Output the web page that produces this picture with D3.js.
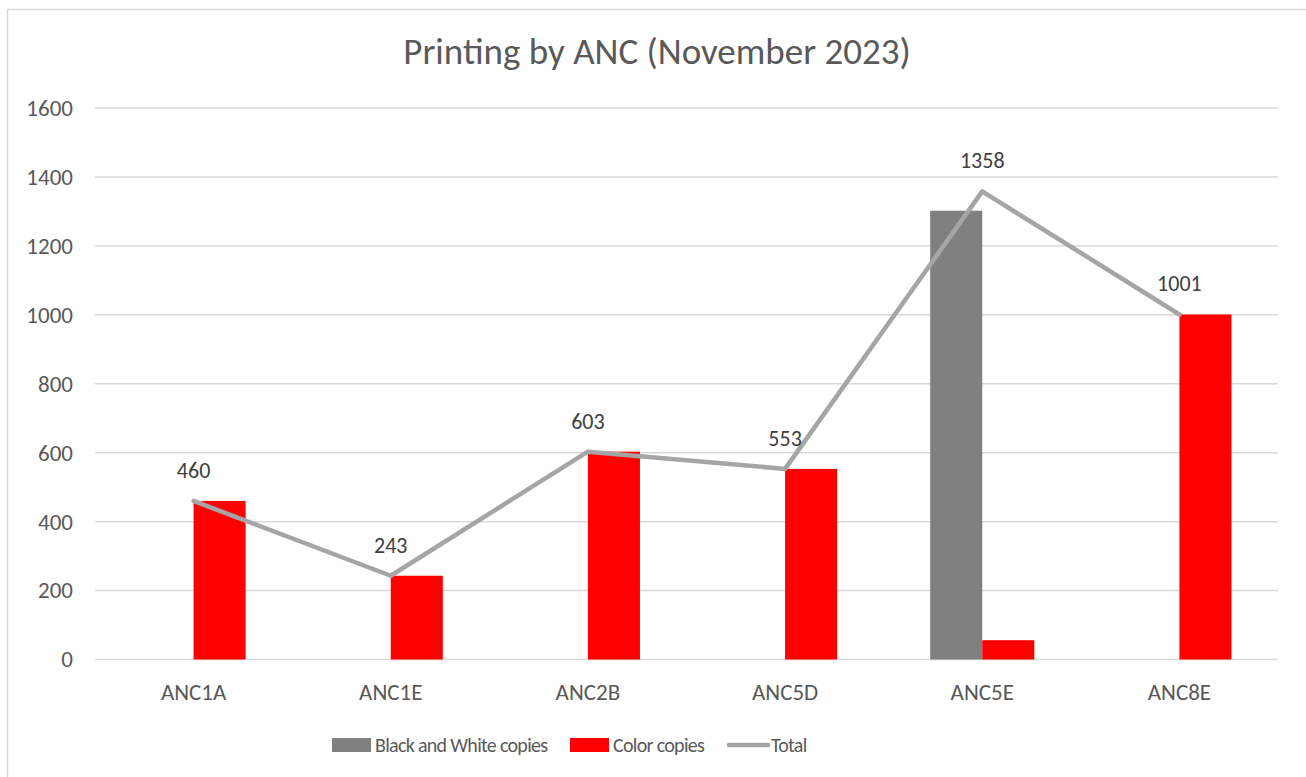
<!DOCTYPE html>
<html>
<head>
<meta charset="utf-8">
<script src="https://cdn.jsdelivr.net/npm/d3@7"></script>
<style>
  html, body { margin: 0; padding: 0; background: #fff; }
  svg text { font-family: Carlito, Lato, "Open Sans", sans-serif; fill: #595959; }
</style>
</head>
<body>
<svg id="chart" width="1306" height="777"></svg>
<script>
// Monthly printing counts per ANC office
const categories = ["ANC1A", "ANC1E", "ANC2B", "ANC5D", "ANC5E", "ANC8E"];
const bwCopies = [0, 0, 0, 0, 1302, 0];
const colorCopies = [460, 243, 603, 553, 56, 1001];
const totals = [460, 243, 603, 553, 1358, 1001];
const yTicks = [0, 200, 400, 600, 800, 1000, 1200, 1400, 1600];
const seriesNames = ["Black and White copies", "Color copies", "Total"];

const svg = d3.select("#chart");
const W = 1306, H = 777;
const plot = { left: 95, right: 1278, top: 108, bottom: 659.5 };

// outer chart frame
svg.append("rect")
  .attr("x", 7.5).attr("y", 9.5)
  .attr("width", W + 20).attr("height", H + 20)
  .attr("fill", "#fff").attr("stroke", "#D9D9D9").attr("stroke-width", 1.5);

// title
svg.append("text")
  .attr("x", 657).attr("y", 64)
  .attr("text-anchor", "middle")
  .style("font-size", "37px")
  .text("Printing by ANC (November 2023)");

const x = d3.scaleBand().domain(categories).range([plot.left, plot.right]).padding(0);
const y = d3.scaleLinear().domain([0, 1600]).range([plot.bottom, plot.top]);
const barW = x.bandwidth() * 0.264;
const xs = d3.scaleBand().domain(["bw", "color"]).range([-barW, barW]);

// gridlines
svg.append("g").selectAll("line").data(yTicks).join("line")
  .attr("x1", plot.left).attr("x2", plot.right)
  .attr("y1", d => y(d)).attr("y2", d => y(d))
  .attr("stroke", "#D9D9D9").attr("stroke-width", 1.5);

// y axis labels
const yAxis = d3.axisLeft(y).tickValues(yTicks).tickFormat(d3.format("d")).tickSize(0).tickPadding(0);
const gy = svg.append("g").attr("transform", `translate(73,0)`).call(yAxis);
gy.select(".domain").remove();
gy.selectAll("text").style("font-size", "23px").attr("fill", "#595959");

// x axis labels
const xAxis = d3.axisBottom(x).tickSize(0).tickPadding(0);
const gx = svg.append("g").attr("transform", `translate(0,${plot.bottom + 24})`).call(xAxis);
gx.select(".domain").remove();
gx.selectAll("text").style("font-size", "23px").attr("fill", "#595959");

const cx = c => x(c) + x.bandwidth() / 2;

// bars
const bars = svg.append("g");
bars.selectAll("rect.bw").data(categories).join("rect")
  .attr("class", "bw")
  .attr("x", c => cx(c) + xs("bw"))
  .attr("width", xs.bandwidth())
  .attr("y", (c, i) => y(bwCopies[i]))
  .attr("height", (c, i) => y(0) - y(bwCopies[i]))
  .attr("fill", "#808080");
bars.selectAll("rect.color").data(categories).join("rect")
  .attr("class", "color")
  .attr("x", c => cx(c) + xs("color"))
  .attr("width", xs.bandwidth())
  .attr("y", (c, i) => y(colorCopies[i]))
  .attr("height", (c, i) => y(0) - y(colorCopies[i]))
  .attr("fill", "#FF0000");

// total line
const line = d3.line().x((d, i) => cx(categories[i])).y(d => y(d));
svg.append("path")
  .datum(totals)
  .attr("d", line)
  .attr("fill", "none")
  .attr("stroke", "#A5A5A5")
  .attr("stroke-width", 4.5)
  .attr("stroke-linecap", "round")
  .attr("stroke-linejoin", "round");

// total labels
svg.append("g").selectAll("text").data(totals).join("text")
  .attr("x", (d, i) => cx(categories[i]))
  .attr("y", d => y(d) - 23)
  .attr("text-anchor", "middle")
  .style("font-size", "22px")
  .style("fill", "#404040")
  .text(d => d);

// legend
const legend = svg.append("g");
const ly = 745;
const legendFont = { size: "20px", spacing: "-0.7px" };
legend.append("rect").attr("x", 332).attr("y", ly - 7).attr("width", 39).attr("height", 14).attr("fill", "#808080");
legend.append("text").attr("x", 375).attr("y", ly + 7)
  .style("font-size", legendFont.size).style("letter-spacing", legendFont.spacing).text(seriesNames[0]);
legend.append("rect").attr("x", 570).attr("y", ly - 7).attr("width", 39).attr("height", 14).attr("fill", "#FF0000");
legend.append("text").attr("x", 613).attr("y", ly + 7)
  .style("font-size", legendFont.size).style("letter-spacing", legendFont.spacing).text(seriesNames[1]);
legend.append("line").attr("x1", 729).attr("x2", 768).attr("y1", ly).attr("y2", ly)
  .attr("stroke", "#A5A5A5").attr("stroke-width", 4.5).attr("stroke-linecap", "round");
legend.append("text").attr("x", 771).attr("y", ly + 7)
  .style("font-size", legendFont.size).style("letter-spacing", legendFont.spacing).text(seriesNames[2]);
</script>
</body>
</html>
